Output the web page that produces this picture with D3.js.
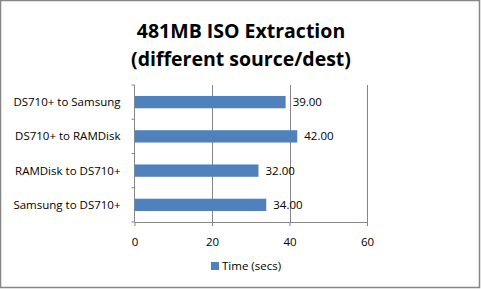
<!DOCTYPE html>
<html lang="en">
<head>
    <meta charset="UTF-8">
    <title>481MB ISO Extraction</title>
    <script src="https://d3js.org/d3.v7.min.js"></script>
    <style>
        body { margin: 0; background: #fff; }
        text { font-family: "Open Sans", "Liberation Sans", sans-serif; fill: #000; }
        .title { font-weight: bold; font-size: 19.5px; }
        .axis path, .axis line { stroke: #868686; }
        .axis text { font-size: 11.5px; }
    </style>
</head>
<body>
    <div id="chart"></div>
    <script>
        // Data (top to bottom)
        const categories = ["DS710+ to Samsung", "DS710+ to RAMDisk", "RAMDisk to DS710+", "Samsung to DS710+"];
        const timeSecs = [39, 42, 32, 34];
        const xTicks = [0, 20, 40, 60];
        const seriesName = "Time (secs)";

        const W = 481, H = 289;
        const margin = {top: 85, right: 114, bottom: 67, left: 134.5};

        const svg = d3.select("#chart")
            .append("svg")
            .attr("width", W)
            .attr("height", H);

        // outer frame
        svg.append("rect")
            .attr("x", 0.5).attr("y", 0.5)
            .attr("width", W - 2).attr("height", H - 2)
            .attr("fill", "#fff")
            .attr("stroke", "#868686")
            .attr("stroke-width", 1.5);

        // title
        const title = svg.append("text")
            .attr("class", "title")
            .attr("text-anchor", "middle");
        title.append("tspan").attr("x", 241).attr("y", 38).text("481MB ISO Extraction");
        title.append("tspan").attr("x", 241).attr("y", 66).text("(different source/dest)");

        const x = d3.scaleLinear()
            .domain([0, 60])
            .range([margin.left, W - margin.right]);

        const y = d3.scaleBand()
            .domain(categories)
            .range([margin.top, H - margin.bottom])
            .paddingInner(0.64)
            .paddingOuter(0.32);

        const plotBottom = H - margin.bottom;

        // vertical gridlines
        svg.append("g")
            .selectAll("line")
            .data(xTicks.slice(1))
            .enter()
            .append("line")
            .attr("x1", d => Math.round(x(d)) + 0.5)
            .attr("x2", d => Math.round(x(d)) + 0.5)
            .attr("y1", margin.top)
            .attr("y2", plotBottom)
            .attr("stroke", "#868686");

        // bars
        svg.selectAll(".bar")
            .data(timeSecs)
            .enter()
            .append("rect")
            .attr("class", "bar")
            .attr("x", x(0))
            .attr("y", (d, i) => y(categories[i]))
            .attr("width", d => x(d) - x(0))
            .attr("height", y.bandwidth())
            .attr("fill", "#4F81BD");

        // value labels
        svg.selectAll(".val")
            .data(timeSecs)
            .enter()
            .append("text")
            .attr("class", "val")
            .attr("x", d => x(d) + 7)
            .attr("y", (d, i) => y(categories[i]) + y.bandwidth() / 2)
            .attr("dy", "0.35em")
            .style("font-size", "11.5px")
            .text(d => d.toFixed(2));

        // x axis
        svg.append("g")
            .attr("class", "axis")
            .attr("transform", `translate(0, ${plotBottom})`)
            .call(d3.axisBottom(x).tickValues(xTicks).tickSize(4).tickSizeOuter(0).tickPadding(12));

        // y axis with ticks between categories
        const yAxis = svg.append("g")
            .attr("class", "axis")
            .attr("transform", `translate(${margin.left}, 0)`);
        yAxis.append("line")
            .attr("y1", margin.top).attr("y2", plotBottom);
        const step = y.step();
        yAxis.selectAll(".tk")
            .data(d3.range(categories.length + 1))
            .enter()
            .append("line")
            .attr("x1", -3).attr("x2", 0)
            .attr("y1", i => margin.top + i * step)
            .attr("y2", i => margin.top + i * step);
        yAxis.selectAll(".lbl")
            .data(categories)
            .enter()
            .append("text")
            .attr("x", -14)
            .attr("y", d => y(d) + y.bandwidth() / 2)
            .attr("dy", "0.35em")
            .attr("text-anchor", "end")
            .text(d => d);

        // legend
        const legend = svg.append("g").attr("transform", "translate(211, 262)");
        legend.append("rect")
            .attr("width", 8).attr("height", 8)
            .attr("fill", "#4F81BD");
        legend.append("text")
            .attr("x", 11).attr("y", 4)
            .attr("dy", "0.35em")
            .style("font-size", "11.5px")
            .text(seriesName);
    </script>
</body>
</html>
